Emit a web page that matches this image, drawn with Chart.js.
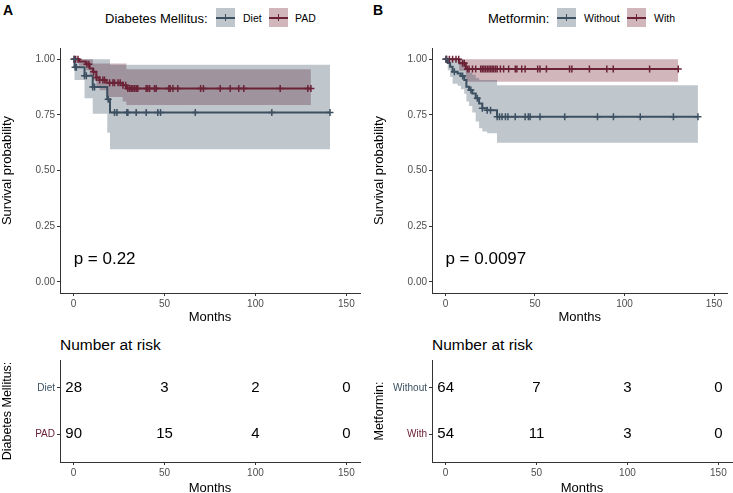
<!DOCTYPE html>
<html>
<head>
<meta charset="utf-8">
<script src="https://cdn.jsdelivr.net/npm/chart.js@4"></script>
<style>
  body { margin: 0; background: #fff; font-family: "Liberation Sans", Arial, sans-serif; }
  #wrap { position: relative; width: 733px; height: 493px; overflow: hidden; }
  #wrap canvas, #wrap .txt, #wrap .key { position: absolute; }
  .txt { white-space: nowrap; color: #000; line-height: 1; }
  .tag { font-weight: bold; font-size: 14px; }
  .legtitle { font-size: 13px; }
  .legitem { font-size: 10.5px; }
  .risktitle { font-size: 15.5px; }
  .key { width: 19px; height: 19px; }
  .key i { position: absolute; left: 0; right: 0; top: 8.5px; height: 2px; }
  .key b { position: absolute; left: 8.75px; width: 1.5px; top: 6px; height: 7px; }
</style>
</head>
<body>
<div id="wrap">
  <div class="txt tag" style="left:3px;top:3px">A</div>
  <div class="txt tag" style="left:373px;top:3px">B</div>

  <div class="txt legtitle" style="left:105px;top:12px">Diabetes Mellitus:</div>
  <div class="key" style="left:216px;top:8px;background:rgba(42,65,85,0.3)"><i style="background:#3c5061"></i><b style="background:#3c5061"></b></div>
  <div class="txt legitem" style="left:243px;top:13px">Diet</div>
  <div class="key" style="left:269px;top:8px;background:rgba(102,12,32,0.3)"><i style="background:#6b2236"></i><b style="background:#6b2236"></b></div>
  <div class="txt legitem" style="left:295px;top:13px">PAD</div>

  <div class="txt legtitle" style="left:488px;top:12px">Metformin:</div>
  <div class="key" style="left:557px;top:8px;background:rgba(42,65,85,0.3)"><i style="background:#3c5061"></i><b style="background:#3c5061"></b></div>
  <div class="txt legitem" style="left:584px;top:13px">Without</div>
  <div class="key" style="left:627px;top:8px;background:rgba(102,12,32,0.3)"><i style="background:#6b2236"></i><b style="background:#6b2236"></b></div>
  <div class="txt legitem" style="left:654px;top:13px">With</div>

  <div class="txt risktitle" style="left:60px;top:337px">Number at risk</div>
  <div class="txt risktitle" style="left:432px;top:337px">Number at risk</div>

  <canvas id="kmA" width="366" height="287" style="left:0;top:38px"></canvas>
  <canvas id="kmB" width="361" height="287" style="left:372px;top:38px"></canvas>
  <canvas id="riskA" width="366" height="174" style="left:0;top:322px"></canvas>
  <canvas id="riskB" width="361" height="174" style="left:372px;top:322px"></canvas>
</div>

<script>
var months = [0, 50, 100, 150];
var survTicks = [0, 0.25, 0.5, 0.75, 1];

// A: Diabetes Mellitus
var groupsA = ['Diet', 'PAD'];
var dietTime  = [0, 0.5, 6, 10.5, 18.5, 20, 141];
var dietSurv  = [1, 0.964, 0.925, 0.875, 0.82, 0.76, 0.76];
var dietUpper = [1, 1, 1, 1, 1, 0.975, 0.975];
var dietLower = [1, 0.906, 0.824, 0.755, 0.67, 0.595, 0.595];
var dietCens  = [0.3, 0.8, 1.5, 6, 7, 10.5, 11.5, 19, 22.5, 23.8, 29.3, 29.8, 34.4, 39.9, 46.3, 47.8, 66.9, 109, 141];

var padTime  = [0, 3, 6.6, 8.8, 10.6, 12.5, 14.3, 18, 27, 29, 130.5];
var padSurv  = [1, 0.989, 0.977, 0.958, 0.943, 0.918, 0.906, 0.894, 0.883, 0.868, 0.868];
var padUpper = [1, 1, 1, 1, 0.98, 0.98, 0.98, 0.98, 0.98, 0.955, 0.955];
var padLower = [1, 0.97, 0.95, 0.925, 0.905, 0.875, 0.86, 0.83, 0.81, 0.794, 0.794];
var padCens  = [0.3, 1.1, 2.4, 7.3, 8.4, 11, 12.5, 14.3, 16.1, 17, 19.8, 21.6, 22.5, 24.4, 25.6, 27.1, 28.6,
                29.8, 30.8, 31.7, 32.6, 33.5, 34.4, 35.3, 39.9, 40.8, 41.8, 44.5, 45.4, 52.4, 53.1, 54.6,
                57.3, 69.8, 71.4, 80.6, 86.1, 90.8, 93.6, 113.6, 128.8, 130.5];

var dietRisk = [28, 3, 2, 0];
var padRisk  = [90, 15, 4, 0];
var pvalA = 'p = 0.22';

// B: Metformin
var groupsB = ['Without', 'With'];
var withoutTime  = [0, 1.3, 2.6, 4, 6.8, 8.6, 10.5, 11.7, 13.2, 15, 16.9, 18.8, 20.6, 23.3, 28.8, 141];
var withoutSurv  = [1, 0.983, 0.966, 0.943, 0.936, 0.924, 0.906, 0.876, 0.861, 0.846, 0.824, 0.801, 0.779, 0.771, 0.741, 0.741];
var withoutUpper = [1, 1, 1, 1, 1, 0.99, 0.975, 0.95, 0.94, 0.93, 0.915, 0.906, 0.906, 0.906, 0.883, 0.883];
var withoutLower = [1, 0.95, 0.92, 0.89, 0.88, 0.865, 0.845, 0.81, 0.79, 0.76, 0.72, 0.69, 0.675, 0.667, 0.625, 0.625];
var withoutCens  = [0.4, 5, 9.6, 14.2, 17.8, 20.6, 23.3, 25.2, 28.9, 30.2, 31.6, 33.5, 34.9, 39, 44.5, 46.3, 47.3,
                    52.8, 66.6, 84.9, 93.8, 108.8, 127.3, 141];

var withTime  = [0, 7.7, 11.4, 130];
var withSurv  = [1, 0.982, 0.956, 0.956];
var withUpper = [1, 1, 1, 1];
var withLower = [1, 0.948, 0.898, 0.898];
var withCens  = [0.3, 0.7, 2.2, 4, 5.9, 7.4, 9.6, 10.5, 12.3, 13.2, 15.1, 16.9, 19.7, 20.6, 21.5, 22.4, 23.4, 24.3,
                 25.2, 26.1, 27, 28, 28.9, 30.7, 32.5, 35.3, 39, 39.9, 42.6, 44.5, 51.5, 52.8, 56.4, 69.3, 70.6,
                 80.4, 90.1, 93.7, 114, 130];

var withoutRisk = [64, 7, 3, 0];
var withRisk    = [54, 11, 3, 0];
var pvalB = 'p = 0.0097';

var slate = '#3c5061';
var maroon = '#6b2236';
var slateBand = 'rgba(42, 65, 85, 0.3)';
var maroonBand = 'rgba(102, 12, 32, 0.3)';

Chart.defaults.font.family = '"Liberation Sans", Arial, sans-serif';

function toPoints(times, vals) {
    return times.map(function(t, i) { return {x: t, y: vals[i]}; });
}

function survAt(times, surv, t) {
    var s = surv[0];
    for (var i = 0; i < times.length; i++) {
        if (times[i] <= t) s = surv[i];
    }
    return s;
}

function groupDatasets(time, surv, upper, lower, cens, color, band) {
    return [
        {
            data: cens.map(function(t) { return {x: t, y: survAt(time, surv, t)}; }),
            showLine: false,
            pointStyle: 'cross',
            pointRadius: 3.5,
            pointBorderWidth: 1.5,
            pointBorderColor: color,
            order: 0
        },
        {
            data: toPoints(time, surv),
            stepped: true,
            borderColor: color,
            borderWidth: 2,
            pointRadius: 0,
            fill: false,
            order: 1
        },
        {
            data: toPoints(time, upper),
            stepped: true,
            borderWidth: 0,
            borderColor: 'rgba(0,0,0,0)',
            pointRadius: 0,
            fill: false,
            order: 2
        },
        {
            data: toPoints(time, lower),
            stepped: true,
            borderWidth: 0,
            borderColor: 'rgba(0,0,0,0)',
            backgroundColor: band,
            pointRadius: 0,
            fill: '-1',
            order: 2
        }
    ];
}

var pvalPlugin = {
    id: 'pval',
    afterDatasetsDraw: function(chart, args, opts) {
        var ctx = chart.ctx;
        ctx.save();
        ctx.font = '17px "Liberation Sans", Arial, sans-serif';
        ctx.fillStyle = '#000';
        ctx.textAlign = 'left';
        ctx.textBaseline = 'middle';
        ctx.fillText(opts.text, chart.scales.x.getPixelForValue(0), chart.scales.y.getPixelForValue(0.1));
        ctx.restore();
    }
};

var riskPlugin = {
    id: 'risk',
    afterDatasetsDraw: function(chart, args, opts) {
        var ctx = chart.ctx;
        ctx.save();
        ctx.font = '15px "Liberation Sans", Arial, sans-serif';
        ctx.fillStyle = '#000';
        ctx.textAlign = 'center';
        ctx.textBaseline = 'middle';
        opts.rows.forEach(function(row, r) {
            row.forEach(function(n, j) {
                ctx.fillText(String(n), chart.scales.x.getPixelForValue(months[j]),
                             chart.scales.y.getPixelForValue(r + 1));
            });
        });
        ctx.restore();
    }
};

function xScale(height) {
    return {
        type: 'linear',
        min: -7.5,
        max: 157.5,
        afterBuildTicks: function(s) { s.ticks = months.map(function(v) { return {value: v}; }); },
        afterFit: function(s) { s.height = height; },
        grid: {drawOnChartArea: false, drawTicks: true, tickLength: 3, color: '#333'},
        border: {color: '#333', width: 1},
        ticks: {color: '#4d4d4d', font: {size: 10}, padding: 2, maxRotation: 0},
        title: {display: true, text: 'Months', color: '#000', font: {size: 13}, padding: 0}
    };
}

function kmChart(id, datasets, pval, rightPad) {
    return new Chart(document.getElementById(id), {
        type: 'line',
        data: {datasets: datasets},
        options: {
            responsive: false,
            animation: false,
            events: [],
            layout: {padding: {top: 10, right: rightPad, left: 0, bottom: 0}},
            plugins: {legend: {display: false}, tooltip: {enabled: false}, pval: {text: pval}},
            scales: {
                x: xScale(32),
                y: {
                    type: 'linear',
                    min: -0.05,
                    max: 1.05,
                    afterBuildTicks: function(s) { s.ticks = survTicks.map(function(v) { return {value: v}; }); },
                    afterFit: function(s) { s.width = 60; },
                    grid: {drawOnChartArea: false, drawTicks: true, tickLength: 3, color: '#333'},
                    border: {color: '#333', width: 1},
                    ticks: {color: '#4d4d4d', font: {size: 10}, padding: 2,
                            callback: function(v) { return v.toFixed(2); }},
                    title: {display: true, text: 'Survival probability', color: '#000', font: {size: 13}, padding: 0}
                }
            }
        },
        plugins: [pvalPlugin]
    });
}

function riskChart(id, groups, colors, rows, title, rightPad) {
    return new Chart(document.getElementById(id), {
        type: 'line',
        data: {datasets: []},
        options: {
            responsive: false,
            animation: false,
            events: [],
            layout: {padding: {top: 38, right: rightPad, left: 0, bottom: 0}},
            plugins: {legend: {display: false}, tooltip: {enabled: false}, risk: {rows: rows}},
            scales: {
                x: xScale(34),
                y: {
                    type: 'linear',
                    min: 0.4,
                    max: 2.6,
                    reverse: true,
                    afterBuildTicks: function(s) { s.ticks = groups.map(function(g, i) { return {value: i + 1}; }); },
                    afterFit: function(s) { s.width = 60; },
                    grid: {drawOnChartArea: false, drawTicks: true, tickLength: 3, color: '#333'},
                    border: {color: '#333', width: 1},
                    ticks: {
                        font: {size: 10},
                        padding: 2,
                        color: function(c) { return colors[c.index]; },
                        callback: function(v) { return groups[v - 1]; }
                    },
                    title: {display: true, text: title, color: '#000', font: {size: 12.5}, padding: 0}
                }
            }
        },
        plugins: [riskPlugin]
    });
}

kmChart('kmA',
    groupDatasets(dietTime, dietSurv, dietUpper, dietLower, dietCens, slate, slateBand)
        .concat(groupDatasets(padTime, padSurv, padUpper, padLower, padCens, maroon, maroonBand)),
    pvalA, 6);

kmChart('kmB',
    groupDatasets(withoutTime, withoutSurv, withoutUpper, withoutLower, withoutCens, slate, slateBand)
        .concat(groupDatasets(withTime, withSurv, withUpper, withLower, withCens, maroon, maroonBand)),
    pvalB, 1);

riskChart('riskA', groupsA, [slate, maroon], [dietRisk, padRisk], 'Diabetes Mellitus:', 6);
riskChart('riskB', groupsB, [slate, maroon], [withoutRisk, withRisk], 'Metformin:', 1);
</script>
</body>
</html>
